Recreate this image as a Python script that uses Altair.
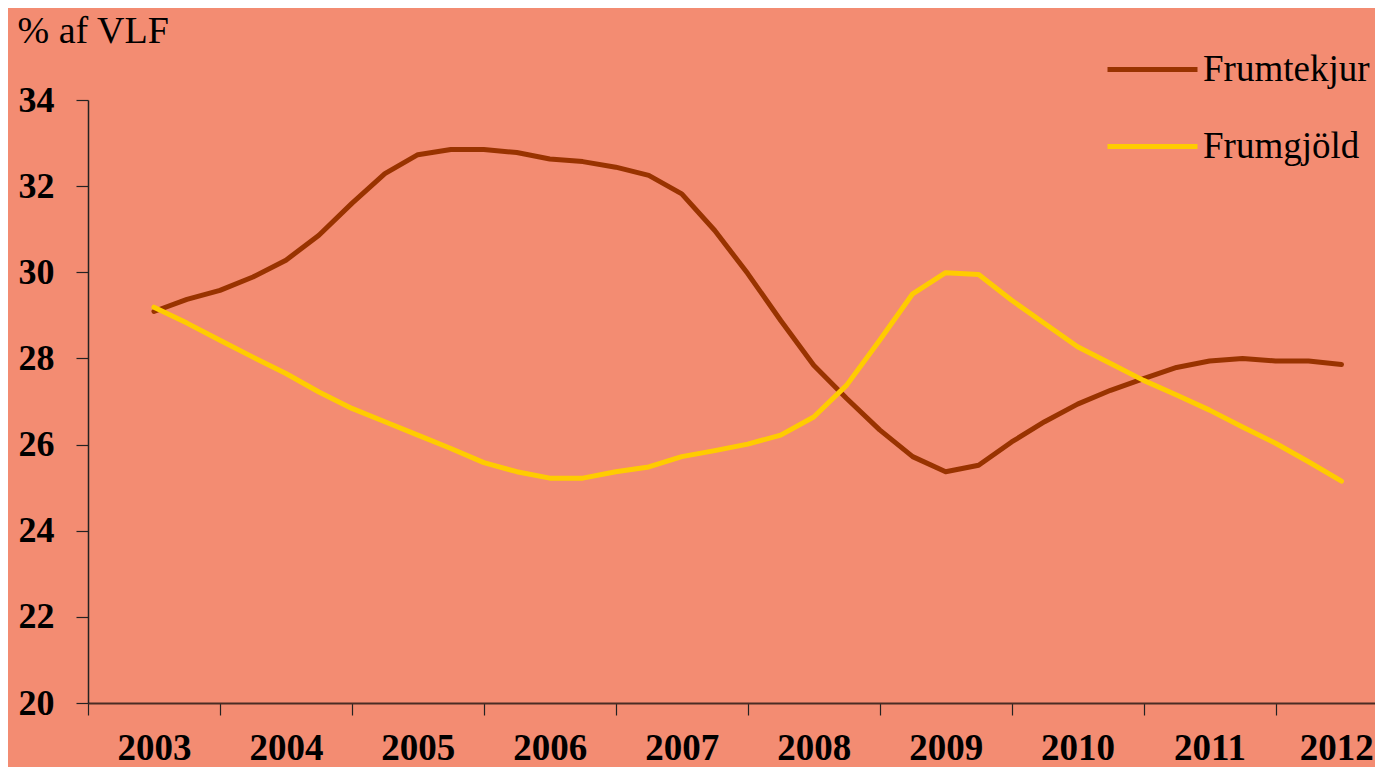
import altair as alt
import pandas as pd

# Quarterly positions (decimal years) from mid-2003 to mid-2012
quarters = [2003.5 + 0.25 * i for i in range(37)]

frumtekjur = [29.09, 29.37, 29.58, 29.89, 30.28, 30.86, 31.60, 32.29, 32.73, 32.85,
              32.85, 32.78, 32.63, 32.57, 32.44, 32.25, 31.82, 30.97, 29.97, 28.88,
              27.84, 27.07, 26.34, 25.72, 25.37, 25.52, 26.06, 26.53, 26.94, 27.26,
              27.53, 27.79, 27.94, 28.00, 27.94, 27.94, 27.86]

frumgjold = [29.19, 28.82, 28.42, 28.03, 27.65, 27.22, 26.84, 26.53, 26.22, 25.91,
             25.58, 25.37, 25.22, 25.22, 25.37, 25.48, 25.72, 25.86, 26.01, 26.22,
             26.64, 27.38, 28.42, 29.50, 29.99, 29.95, 29.35, 28.81, 28.27, 27.88,
             27.49, 27.15, 26.80, 26.41, 26.03, 25.60, 25.15]

series_names = ["Frumtekjur", "Frumgjöld"]
series_colors = ["#993300", "#FFCC00"]

year_ticks = list(range(2003, 2013))
# year labels sit mid-year (the last one nudged slightly left so it fits)
label_positions = [2003.5, 2004.5, 2005.5, 2006.5, 2007.5, 2008.5,
                   2009.5, 2010.5, 2011.5, 2012.46]
axis_values = sorted(year_ticks + label_positions)
y_ticks = [20, 22, 24, 26, 28, 30, 32, 34]

df = pd.DataFrame({
    "x": quarters * 2,
    "value": frumtekjur + frumgjold,
    "series": [series_names[0]] * len(quarters) + [series_names[1]] * len(quarters),
})

FONT = "Liberation Serif"

chart = alt.Chart(df).mark_line(strokeWidth=5, strokeCap="round", strokeJoin="round").encode(
    x=alt.X("x:Q",
            scale=alt.Scale(domain=[2003, 2012.754], nice=False, zero=False),
            axis=alt.Axis(values=axis_values, title=None, grid=False,
                          labelExpr="datum.value % 1 == 0 ? '' : toString(floor(datum.value))",
                          tickOpacity={"condition": {"test": "datum.value % 1 == 0", "value": 1}, "value": 0},
                          tickSize=12, tickColor="#222222", tickWidth=1.2,
                          domainColor="#4a2c24", domainWidth=2,
                          labelFont=FONT, labelFontSize=37, labelFontWeight="bold",
                          labelColor="black", labelBaseline="alphabetic",
                          labelPadding=44, labelFlush=False, labelOverlap=False)),
    y=alt.Y("value:Q",
            scale=alt.Scale(domain=[20, 34], nice=False, zero=False),
            axis=alt.Axis(values=y_ticks, grid=False, format="d",
                          title="% af VLF", titleAngle=0, titleX=-71, titleY=-58,
                          titleAlign="left", titleBaseline="alphabetic",
                          titleFont=FONT, titleFontSize=38, titleFontWeight="normal",
                          titleColor="black",
                          tickSize=12, tickColor="#222222", tickWidth=1.2,
                          domainColor="#222222", domainWidth=1.5,
                          labelFont=FONT, labelFontSize=36, labelFontWeight="bold",
                          labelColor="black", labelPadding=22)),
    color=alt.Color("series:N",
                    scale=alt.Scale(domain=series_names, range=series_colors),
                    legend=alt.Legend(orient="none", legendX=1017, legendY=-78,
                                      title=None, symbolType="stroke", symbolSize=8100,
                                      symbolStrokeWidth=5, labelFont=FONT,
                                      labelFontSize=37, labelColor="black",
                                      labelOffset=3, rowPadding=11, padding=0,
                                      labelLimit=400)),
).properties(
    width=1287,
    height=603,
    autosize="none",
    padding={"left": 80, "top": 92, "right": 0, "bottom": 64},
    background="#F38C72",
).configure_view(stroke=None)

chart.save("out.html", embed_options={"renderer": "svg", "actions": False})
